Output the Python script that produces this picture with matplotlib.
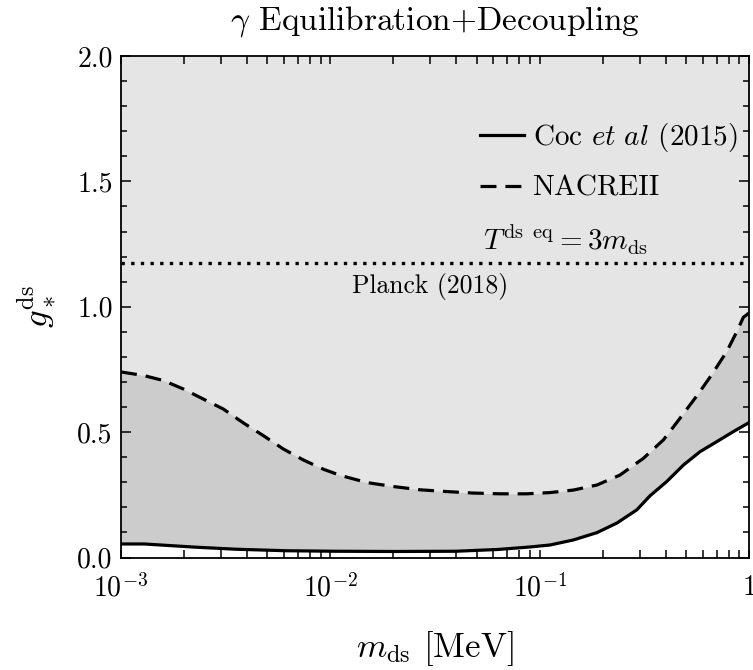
import matplotlib
matplotlib.use("Agg")
import matplotlib.pyplot as plt
import numpy as np
from matplotlib.ticker import FixedLocator, FixedFormatter, MultipleLocator

plt.rcParams['font.family'] = 'serif'
plt.rcParams['font.serif'] = ['cmr10']
plt.rcParams['mathtext.fontset'] = 'cm'
plt.rcParams['axes.unicode_minus'] = False
plt.rcParams['axes.formatter.use_mathtext'] = True

# log10(m_ds / MeV) and the g_* bounds
logm_nacre = [-3.0, -2.893, -2.798, -2.702, -2.607, -2.511, -2.416, -2.320, -2.225,
              -2.129, -2.033, -1.954, -1.826, -1.699, -1.571, -1.444, -1.317,
              -1.189, -1.062, -0.950, -0.839, -0.727, -0.616, -0.504, -0.409,
              -0.329, -0.249, -0.178, -0.106, -0.058, -0.027, 0.0]
g_nacre = [0.740, 0.726, 0.706, 0.672, 0.632, 0.592, 0.537, 0.486, 0.433,
           0.389, 0.352, 0.328, 0.299, 0.283, 0.270, 0.263, 0.257,
           0.254, 0.254, 0.259, 0.269, 0.289, 0.329, 0.396, 0.469,
           0.556, 0.645, 0.729, 0.822, 0.901, 0.958, 0.975]

logm_coc = [-3.0, -2.89, -2.64, -2.45, -2.21, -1.98, -1.7, -1.4, -1.2, -1.046,
            -0.950, -0.839, -0.727, -0.632, -0.536, -0.473, -0.393, -0.313,
            -0.234, -0.154, -0.075, 0.0]
g_coc = [0.054, 0.054, 0.041, 0.033, 0.027, 0.025, 0.024, 0.025, 0.032, 0.042,
         0.050, 0.070, 0.099, 0.137, 0.190, 0.246, 0.303, 0.369,
         0.422, 0.462, 0.502, 0.538]

g_planck = 1.175
g_top = 2.0

m_grid = np.linspace(-3, 0, 400)
nacre = np.interp(m_grid, logm_nacre, g_nacre)
coc = np.interp(m_grid, logm_coc, g_coc)
m = 10 ** m_grid

fig = plt.figure(figsize=(7.53, 6.70), dpi=100)
ax = fig.add_axes([0.1607, 0.1679, 0.834, 0.7485])

# excluded regions
ax.fill_between(m, coc, g_top, color='#e5e5e5', lw=0)
ax.fill_between(m, coc, nacre, color='#cccccc', lw=0)

ax.plot(10 ** np.array(logm_coc), g_coc, color='black', lw=2.3,
        label=r'Coc $\it{et\ al}$ (2015)')
ax.plot(10 ** np.array(logm_nacre), g_nacre, color='black', lw=2.3, ls=(0, (5, 2.8)),
        label='NACREII')
ax.axhline(g_planck, color='black', lw=2.4, ls=(0, (1, 1.9)))
ax.text(0.0300, 1.08, 'Planck (2018)', ha='center', va='center', fontsize=18.5)

ax.set_xscale('log')
ax.set_xlim(1e-3, 1)
ax.set_ylim(0, 2)

ax.xaxis.set_major_locator(FixedLocator([1e-3, 1e-2, 1e-1, 1]))
ax.xaxis.set_major_formatter(FixedFormatter([r'$10^{-3}$', r'$10^{-2}$', r'$10^{-1}$', r'$1$']))
ax.yaxis.set_major_locator(MultipleLocator(0.5))
ax.yaxis.set_minor_locator(MultipleLocator(0.1))
ax.yaxis.set_major_formatter(plt.FuncFormatter(lambda v, p: f'{v:.1f}'))

ax.tick_params(which='both', direction='in', top=True, right=True, labelsize=20, width=1.1)
ax.tick_params(axis='x', which='both', length=6, pad=12)
ax.tick_params(axis='y', which='major', length=7, pad=6)
ax.tick_params(axis='y', which='minor', length=4.5)
for s in ax.spines.values():
    s.set_linewidth(1.3)

leg = ax.legend(loc='upper right', bbox_to_anchor=(1.0, 0.893), frameon=False, fontsize=21,
                handlelength=1.5, handletextpad=0.3, labelspacing=0.72, borderaxespad=0.0)
ax.text(0.576, 0.633, r'$T^{\rm ds\;\;eq} = 3m_{\rm ds}$', transform=ax.transAxes,
        fontsize=21, ha='left', va='center')

ax.set_title(r'$\gamma$ Equilibration+Decoupling', fontsize=24, pad=19)
ax.set_xlabel(r'$m_{\rm ds}$ [MeV]', fontsize=25, labelpad=19)
ax.set_ylabel(r'$g_*^{\rm ds}$', fontsize=25, labelpad=14)

fig.savefig('out.png', dpi=100)
